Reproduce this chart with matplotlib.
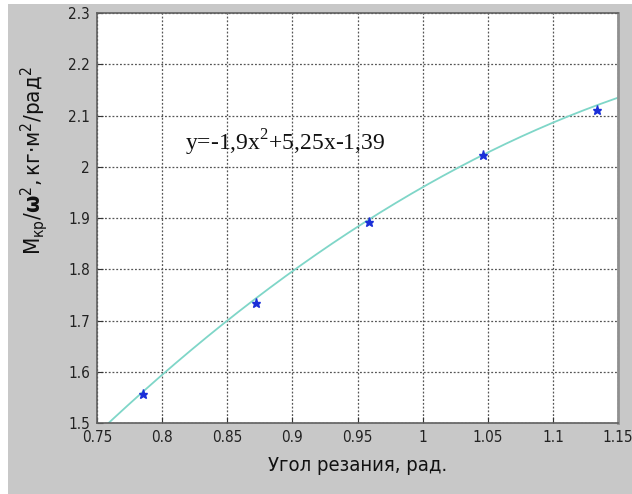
import numpy as np
import matplotlib
matplotlib.use("Agg")
import matplotlib.pyplot as plt
from matplotlib.patches import Rectangle

# measured points (angle, rad ; M/w^2)
angle = [0.785, 0.872, 0.959, 1.046, 1.134]
moment = [1.556, 1.734, 1.892, 2.023, 2.111]

# fit shown on the chart: y = -1.9x^2 + 5.25x - 1.39
fit_coef = [-1.9, 5.25, -1.39]

x_ticks = [0.75, 0.8, 0.85, 0.9, 0.95, 1.0, 1.05, 1.1, 1.15]
x_labels = ["0.75", "0.8", "0.85", "0.9", "0.95", "1", "1.05", "1.1", "1.15"]
y_ticks = [1.5, 1.6, 1.7, 1.8, 1.9, 2.0, 2.1, 2.2, 2.3]
y_labels = ["1.5", "1.6", "1.7", "1.8", "1.9", "2", "2.1", "2.2", "2.3"]

plt.rcParams['font.family'] = ['DejaVu Sans']
plt.rcParams['font.stretch'] = 'condensed'

fig = plt.figure(figsize=(6.32, 4.94), dpi=100, facecolor="white")
# grey window background (white strip on the left and top like the scan)
fig.patches.append(Rectangle((8/632, 0), 1, 1 - 4/494, transform=fig.transFigure,
                             facecolor="#c8c8c8", edgecolor="none", zorder=-1))

ax = fig.add_axes([97/632, 1 - 423/494, 521/632, 410/494])
ax.set_facecolor("white")

xs = np.linspace(0.75, 1.15, 200)
ax.plot(xs, np.polyval(fit_coef, xs), color="#7fd6c8", lw=1.3, zorder=2)
ax.plot(angle, moment, ls="none", marker="*", ms=6.5, color="#1a2fd8", zorder=3)

ax.set_xlim(0.75, 1.15)
ax.set_ylim(1.5, 2.3)
ax.set_xticks(x_ticks)
ax.set_xticklabels(x_labels)
ax.set_yticks(y_ticks)
ax.set_yticklabels(y_labels)
ax.tick_params(direction="in", length=4, labelsize=11, colors="#333333",
               labelcolor="#222222")
ax.tick_params(axis="x", pad=5)
ax.tick_params(axis="y", pad=5)
ax.grid(True, ls=(0, (1.5, 1.5)), color="#555555", lw=0.9)
for s in ax.spines.values():
    s.set_color("#606060")
    s.set_linewidth(1.2)
ax.spines["right"].set_color("#909090")
ax.spines["right"].set_linewidth(2)

ax.text(0.8176, 2.046, r"y=-1,9x$^{\mathregular{2}}$+5,25x-1,39", family="Liberation Serif",
        fontsize=17, va="center", ha="left", color="#111111")

ax.set_xlabel("Угол резания, рад.", fontsize=14.5, color="#111111", labelpad=8)
ax.set_ylabel(r"$\mathregular{М_{кр}/}\mathbf{\omega}^{\mathregular{2}}\mathregular{,кг{\cdot}м^2/рад^2}$",
              fontsize=16, color="#111111")
ax.yaxis.set_label_coords(-0.09, 0.64)

fig.savefig("out.png", dpi=100, facecolor=fig.get_facecolor())
